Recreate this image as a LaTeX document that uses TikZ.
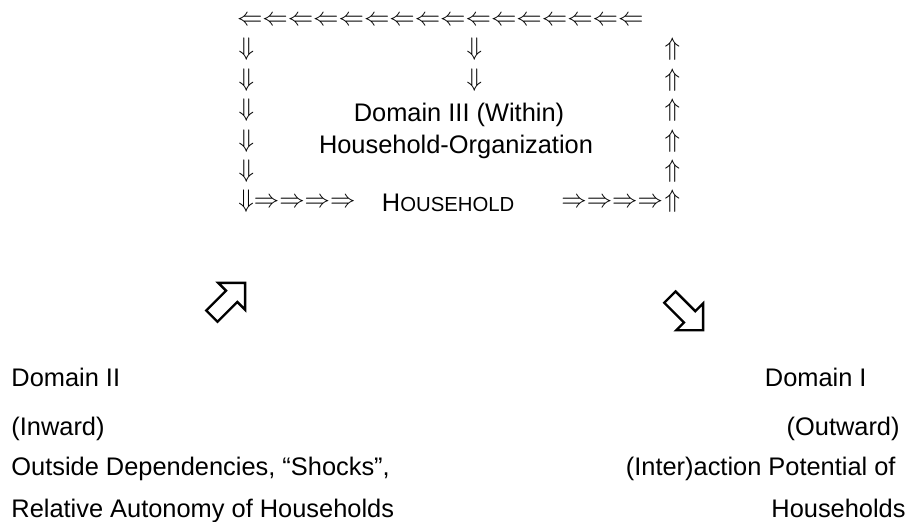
\documentclass[tikz,border=0pt]{standalone}
\usepackage{fontspec}
\setmainfont{Liberation Sans}
\usepackage{amsmath}
\usepackage{amssymb}

% smaller capitals for the household label
\newcommand{\fakesc}[1]{{\fontsize{9.6}{11}\selectfont #1}}

\begin{document}
\begin{tikzpicture}[x=0.4724pt,y=-0.4724pt,
    txt/.style={inner sep=0pt,font=\fontsize{12}{14}\selectfont},
    flow/.style={inner sep=0pt,font=\fontsize{12}{14}\selectfont,anchor=base},
    hollow/.style={draw,line width=1.1pt,line join=miter,fill=white}]
    \useasboundingbox (0,0) rectangle (911,522);

    % circuit of arrows round the household
    \node[flow,anchor=base west,font=\fontsize{12.3}{14}\selectfont] (back) at (236.6,25.4) {$\Leftarrow\Leftarrow\Leftarrow\Leftarrow\Leftarrow\Leftarrow\Leftarrow\Leftarrow\Leftarrow\Leftarrow\Leftarrow\Leftarrow\Leftarrow\Leftarrow\Leftarrow\Leftarrow$};
    \node[flow] (d1) at (246.5,55.8) {$\Downarrow$};
    \node[flow] (d2) at (246.5,86.2) {$\Downarrow$};
    \node[flow] (d3) at (246.5,116.6) {$\Downarrow$};
    \node[flow] (d4) at (246.5,147) {$\Downarrow$};
    \node[flow] (d5) at (246.5,177.4) {$\Downarrow$};
    \node[flow] (m1) at (474.5,55.8) {$\Downarrow$};
    \node[flow] (m2) at (474.5,86.2) {$\Downarrow$};
    \node[flow] (u1) at (672.5,55.8) {$\Uparrow$};
    \node[flow] (u2) at (672.5,86.2) {$\Uparrow$};
    \node[flow] (u3) at (672.5,116.6) {$\Uparrow$};
    \node[flow] (u4) at (672.5,147) {$\Uparrow$};
    \node[flow] (u5) at (672.5,177.4) {$\Uparrow$};
    \node[flow,anchor=base west] (d6) at (238,207.8) {$\Downarrow\Rightarrow\Rightarrow\Rightarrow\Rightarrow$};
    \node[flow,anchor=base west] (fwd) at (561,207.8) {$\Rightarrow\Rightarrow\Rightarrow\Rightarrow$};
    \node[flow] (u6) at (672.5,207.8) {$\Uparrow$};

    % domain III inside the circuit
    \node[txt,anchor=base] (within) at (459,121.7) {Domain III (Within)};
    \node[txt,anchor=base] (org) at (456,153.3) {Household-Organization};
    \node[txt,anchor=base west] (hh) at (381.5,211.7) {H\fakesc{OUSEHOLD}};

    % hollow block arrows
    \draw[hollow,shift={(228.5,299.5)},rotate=45] (-23.5,-8) -- (4.5,-8) -- (4.5,-19) -- (23.5,0) -- (4.5,19) -- (4.5,8) -- (-23.5,8) -- cycle;
    \draw[hollow,shift={(686.5,313.7)},rotate=-45] (-23.5,-8) -- (4.5,-8) -- (4.5,-19) -- (23.5,0) -- (4.5,19) -- (4.5,8) -- (-23.5,8) -- cycle;

    % domain II, left
    \node[txt,anchor=base west] (dii) at (11,386) {Domain II};
    \node[txt,anchor=base west] (inward) at (11,435) {(Inward)};
    \node[txt,anchor=base west] (shocks) at (11,475) {Outside Dependencies, “Shocks”,};
    \node[txt,anchor=base west] (autonomy) at (11,517) {Relative Autonomy of Households};

    % domain I, right
    \node[txt,anchor=base east] (di) at (867,386) {Domain I};
    \node[txt,anchor=base east] (outward) at (900,435) {(Outward)};
    \node[txt,anchor=base east] (potential) at (896,475) {(Inter)action Potential of};
    \node[txt,anchor=base east] (hholds) at (906,517) {Households};
\end{tikzpicture}
\end{document}
